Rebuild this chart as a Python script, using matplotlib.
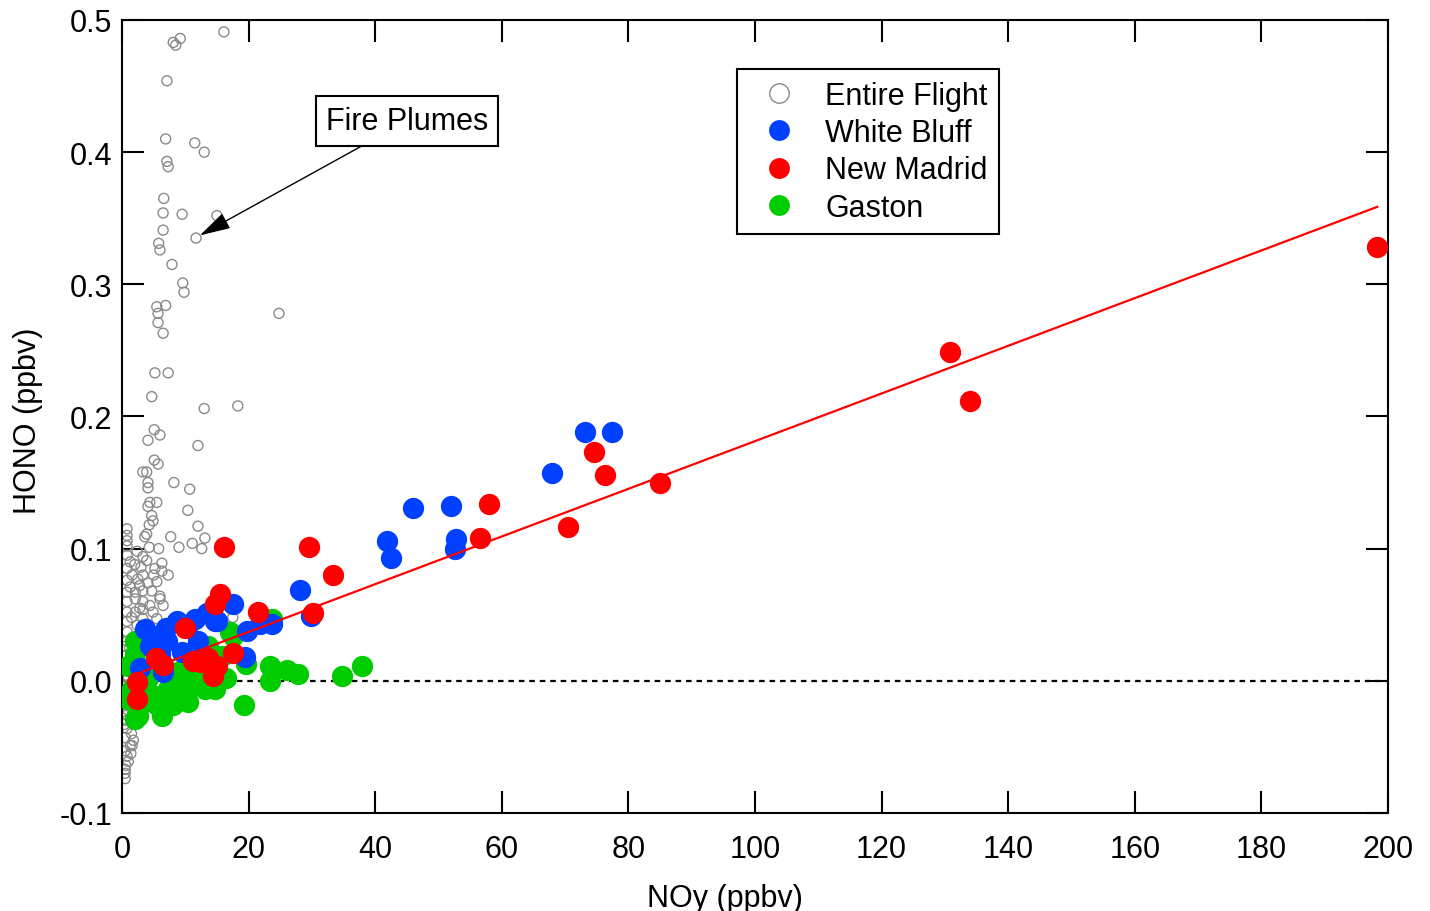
import matplotlib
matplotlib.use("Agg")
import matplotlib.pyplot as plt
from matplotlib.lines import Line2D
import numpy as np

plt.rcParams['font.family'] = ['Liberation Sans', 'DejaVu Sans']

# Entire flight (open grey circles)
flight_x = [16.1, 9.2, 8.1, 8.5, 7.1, 6.9, 11.5, 13.0, 7.1, 7.3, 6.6, 6.5, 9.5, 15.0, 6.5,
            11.7, 5.8, 6.0, 7.9, 9.6, 9.8, 6.9, 5.5, 5.7, 5.7, 24.8, 6.5, 5.2, 7.3, 4.7,
            13.0, 18.3, 5.1, 6.0, 4.1, 12.0, 5.1, 5.7, 3.3, 3.9, 4.1, 8.2, 10.7, 4.1,
            4.4, 5.5, 4.1, 10.4, 4.7, 4.9, 4.3, 12.0, 13.1, 7.7, 3.9, 3.6, 0.8, 0.8, 0.8,
            11.1, 9.0, 12.6, 5.8, 4.3, 0.8, 0.8, 3.3, 3.0, 5.2, 6.3, 6.3, 7.3, 0.8, 3.3,
            0.8, 5.5, 2.8, 0.8, 2.1, 3.3, 4.7, 6.0, 6.0, 6.5, 4.4, 3.3, 2.1, 0.8, 0.8,
            2.1, 3.3, 4.9, 5.5, 3.3, 0.8, 2.4, 0.8, 10.3, 17.5, 11.2, 0.8, 0.5, 0.5, 0.5,
            0.3, 0.2, 0.2, 0.2, 0.8, 0.8, 0.5, 1.3, 0.5, 0.8, 1.0, 0.5, 0.5, 0.5,
            1.3, 2.4, 1.6, 3.9, 2.5, 4.1, 1.3, 5.0, 2.8, 1.5, 4.0, 1.2, 1.0, 0.6, 1.5,
            1.8, 0.6, 1.6, 0.4, 0.9, 1.1, 0.4, 2.0, 0.7, 1.4]
flight_y = [0.491, 0.486, 0.483, 0.481, 0.454, 0.410, 0.407, 0.400, 0.393, 0.389, 0.365, 0.354,
            0.353, 0.352, 0.341, 0.335, 0.331, 0.326, 0.315, 0.301, 0.294, 0.284, 0.283, 0.278,
            0.271, 0.278, 0.263, 0.233, 0.233, 0.215, 0.206, 0.208, 0.190, 0.186, 0.182, 0.178,
            0.167, 0.164, 0.158, 0.158, 0.150, 0.150, 0.145, 0.146,
            0.135, 0.135, 0.132, 0.129, 0.125, 0.121, 0.118, 0.117, 0.108, 0.109, 0.111, 0.109,
            0.115, 0.110, 0.106, 0.104, 0.101, 0.100, 0.100, 0.101, 0.102, 0.095, 0.094, 0.086,
            0.085, 0.089, 0.083, 0.080, 0.085, 0.080, 0.076, 0.075, 0.072, 0.067, 0.067, 0.068,
            0.068, 0.064, 0.062, 0.057, 0.057, 0.060, 0.062, 0.060, 0.052, 0.052, 0.054, 0.052,
            0.047, 0.047, 0.045, 0.042, 0.037, 0.045, 0.048, 0.034, 0.030, 0.019, 0.011, 0.004,
            -0.004, -0.014, -0.019, -0.025, -0.030, -0.036, -0.043, -0.049, -0.053, -0.057,
            -0.061, -0.067, -0.070, -0.074,
            0.090, 0.098, 0.080, 0.091, 0.077, 0.074, 0.071, 0.080, 0.055, 0.048, 0.043, 0.025,
            0.003, -0.008, -0.040, -0.045, -0.064, -0.049, 0.026, -0.022, 0.015, -0.033,
            0.088, -0.009, -0.055]

# White Bluff
wb_x = [73.1, 77.4, 67.9, 46.0, 52.0, 41.9, 42.5, 52.8, 52.6, 28.1, 29.8, 17.5, 23.7, 21.8,
        19.7, 19.4, 13.4, 14.7, 8.7, 3.6, 5.5, 4.4, 7.1, 10.3, 6.5, 2.8, 9.5, 15.0, 11.6,
        7.0, 12.0, 6.0]
wb_y = [0.188, 0.188, 0.157, 0.131, 0.132, 0.106, 0.093, 0.107, 0.100, 0.069, 0.049, 0.058,
        0.043, 0.043, 0.038, 0.018, 0.051, 0.045, 0.045, 0.039, 0.034, 0.026, 0.030, 0.041,
        0.007, 0.010, 0.022, 0.045, 0.047, 0.040, 0.030, 0.020]

# New Madrid
nm_x = [198.3, 130.8, 134.0, 85.0, 74.6, 76.3, 70.5, 58.0, 56.6, 33.3, 29.5, 30.2, 16.1,
        21.5, 15.5, 14.7, 10.0, 5.3, 6.5, 11.2, 13.6, 15.0, 14.4, 17.5, 2.4, 2.4, 12.5]
nm_y = [0.328, 0.249, 0.212, 0.150, 0.173, 0.156, 0.116, 0.134, 0.108, 0.080, 0.101, 0.051,
        0.101, 0.052, 0.066, 0.058, 0.040, 0.017, 0.012, 0.015, 0.017, 0.011, 0.004, 0.021,
        -0.001, -0.014, 0.014]

# Gaston
ga_x = [23.4, 26.0, 27.8, 23.4, 34.8, 37.9, 19.2, 19.6, 2.1, 1.0, 1.6, 2.5, 6.3, 4.7, 9.5,
        11.1, 13.1, 14.7, 7.3, 4.1, 8.8, 11.5, 13.6, 15.8, 17.1, 2.5, 1.0, 10.4, 2.1, 23.7,
        17.5, 6.0, 9.0, 3.0, 12.5, 5.5, 8.0, 16.5, 2.0]
ga_y = [0.011, 0.008, 0.005, 0.000, 0.004, 0.011, -0.018, 0.013, 0.030, 0.011, -0.006,
        -0.027, -0.027, -0.011, -0.011, -0.004, -0.006, -0.006, -0.006, 0.002, 0.007, 0.007,
        0.026, 0.019, 0.037, -0.021, -0.014, -0.016, -0.029, 0.047, 0.034, 0.010, 0.000,
        -0.002, 0.018, -0.018, -0.018, 0.002, 0.020]

# fit line and zero line end points
fit_x = [2.4, 198.3]
fit_y = [0.0053, 0.3586]
zero_x = [0, 200]
zero_y = [0, 0]

x_ticks = np.arange(0, 201, 20)
y_ticks = [-0.1, 0.0, 0.1, 0.2, 0.3, 0.4, 0.5]

blue = '#0040ff'
red = '#ff0000'
green = '#00cc00'
grey = '#8a8a8a'

fig = plt.figure(figsize=(14.3, 9.12), dpi=100)
ax = fig.add_axes([0.0853, 0.1075, 0.8853, 0.8695])

ax.scatter(flight_x, flight_y, s=52, facecolors='none', edgecolors=grey, linewidths=1.0, zorder=2)
ax.plot(zero_x, zero_y, color='black', lw=1.6, linestyle=(0, (2.5, 2.2)), zorder=1)
ax.scatter(ga_x, ga_y, s=235, color=green, linewidths=0, zorder=3)
ax.scatter(wb_x, wb_y, s=235, color=blue, linewidths=0, zorder=4)
ax.scatter(nm_x, nm_y, s=235, color=red, linewidths=0, zorder=5)
ax.plot(fit_x, fit_y, color=red, lw=1.6, zorder=6)

ax.set_xlim(0, 200)
ax.set_ylim(-0.1, 0.5)
ax.set_xticks(x_ticks)
ax.set_yticks(y_ticks)
ax.set_yticklabels(['%.1f' % v for v in y_ticks])
ax.tick_params(direction='in', length=16, width=1.5, top=True, right=True,
               labelsize=22, colors='black')
ax.tick_params(axis='x', pad=15)
ax.tick_params(axis='y', pad=7)
for sp in ax.spines.values():
    sp.set_linewidth(1.5)

ax.set_xlabel('NOy (ppbv)', fontsize=22)
ax.set_ylabel('HONO (ppbv)', fontsize=22)
ax.xaxis.set_label_coords(0.476, -0.088)
ax.yaxis.set_label_coords(-0.062, 0.496)

ax.annotate('Fire Plumes', xy=(12.3, 0.337), xytext=(45.0, 0.4235), fontsize=22,
            ha='center', va='center',
            bbox=dict(boxstyle='square,pad=0.32', fc='white', ec='black', lw=1.5),
            arrowprops=dict(arrowstyle='-|>,head_length=0.8,head_width=0.22', color='black',
                            lw=1.0, mutation_scale=24, shrinkA=0, shrinkB=0),
            zorder=7)

handles = [
    Line2D([], [], linestyle='none', marker='o', markersize=14, markerfacecolor='white',
           markeredgecolor=grey, markeredgewidth=1.0),
    Line2D([], [], linestyle='none', marker='o', markersize=15, markerfacecolor=blue,
           markeredgewidth=0),
    Line2D([], [], linestyle='none', marker='o', markersize=15, markerfacecolor=red,
           markeredgewidth=0),
    Line2D([], [], linestyle='none', marker='o', markersize=15, markerfacecolor=green,
           markeredgewidth=0),
]
leg = ax.legend(handles, ['Entire Flight', 'White Bluff', 'New Madrid', 'Gaston'],
                loc='upper left', bbox_to_anchor=(0.486, 0.938), borderaxespad=0,
                fontsize=22, frameon=True, fancybox=False, edgecolor='black',
                framealpha=1, labelspacing=0.24, handletextpad=0.5, borderpad=0.38,
                handlelength=2.0)
leg.get_frame().set_linewidth(1.5)
leg.set_zorder(8)

fig.savefig('out.png', dpi=100)
